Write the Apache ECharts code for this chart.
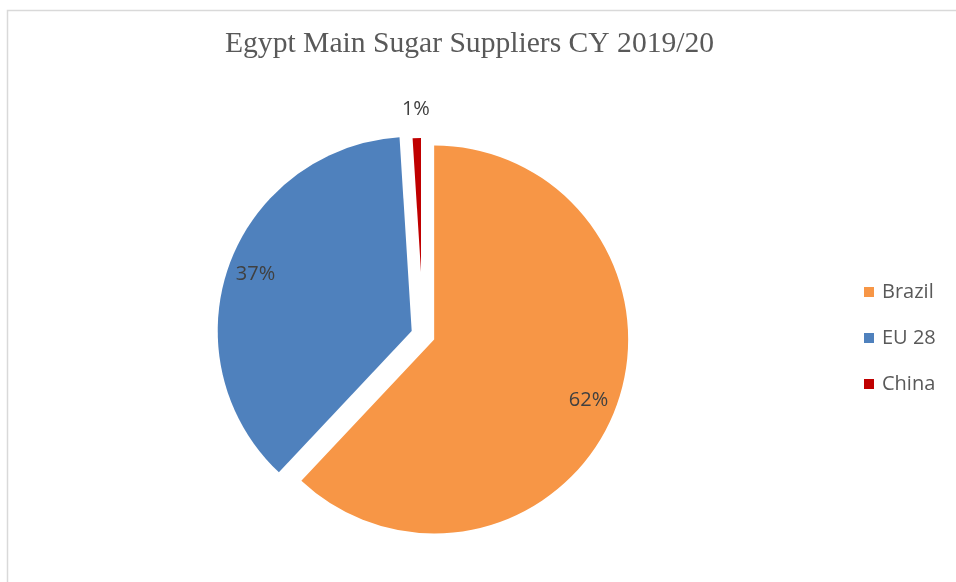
<!DOCTYPE html>
<html>
<head>
<meta charset="utf-8">
<script src="https://cdn.jsdelivr.net/npm/echarts@6/dist/echarts.min.js"></script>
<style>
  html, body { margin: 0; padding: 0; background: #fff; }
  #chart { width: 956px; height: 582px; }
</style>
</head>
<body>
<div id="chart"></div>
<script>
var suppliers = ['Brazil', 'EU 28', 'China'];
var shares = [62, 37, 1];
var sliceColors = ['#F79646', '#4F81BD', '#C00000'];

var clear = 'rgba(0,0,0,0)';
var bigCenter = [423, 335];
var smallCenter = [421, 272]; // the China sliver sits higher and shorter, as in the Excel original

var myChart = echarts.init(document.getElementById('chart'));

// build one data list; "show" says which slices are painted / labelled in this series
function sliceData(show, withLabel) {
  return suppliers.map(function (name, i) {
    var on = show.indexOf(name) >= 0;
    return {
      name: name,
      value: shares[i],
      selected: true,
      itemStyle: { color: (on && !withLabel) ? sliceColors[i] : clear },
      label: { show: withLabel && on }
    };
  });
}

var labelStyle = {
  position: 'inside',
  formatter: '{d}%',
  fontFamily: 'Open Sans',
  fontSize: 20,
  color: '#404040'
};

function pie(center, radius, offset, data, label) {
  return {
    type: 'pie',
    center: center,
    radius: radius,
    startAngle: 90,
    selectedMode: 'multiple',
    selectedOffset: offset,
    silent: true,
    avoidLabelOverlap: false,
    label: label || { show: false },
    labelLine: { show: false },
    emphasis: { disabled: true },
    data: data
  };
}

myChart.setOption({
  animation: false,
  graphic: [{
    type: 'rect',
    shape: { x: 7.5, y: 10.5, width: 1200, height: 1000 },
    style: { fill: 'none', stroke: '#d9d9d9', lineWidth: 1.5 },
    silent: true
  }],
  title: {
    text: 'Egypt Main Sugar Suppliers CY 2019/20',
    left: 220,
    top: 24,
    textStyle: { fontFamily: 'Liberation Serif', fontWeight: 'normal', fontSize: 29.6, color: '#595959' }
  },
  legend: {
    orient: 'vertical',
    left: 859,
    top: 277,
    icon: 'rect',
    itemWidth: 10,
    itemHeight: 10,
    itemGap: 26,
    data: suppliers.map(function (name, i) {
      return { name: name, itemStyle: { color: sliceColors[i] } };
    }),
    textStyle: { fontFamily: 'Open Sans', fontSize: 20, color: '#595959', lineHeight: 20, padding: [0, 0, 0, 3] }
  },
  series: [
    pie(bigCenter, 194, 12, sliceData(['Brazil', 'EU 28'], false)),
    pie(smallCenter, 134, 0, sliceData(['China'], false)),
    pie(bigCenter, [132, 194], 12, sliceData(['Brazil', 'EU 28'], true), labelStyle),
    pie(smallCenter, [146, 174], 0, sliceData(['China'], true), labelStyle)
  ]
});
</script>
</body>
</html>
